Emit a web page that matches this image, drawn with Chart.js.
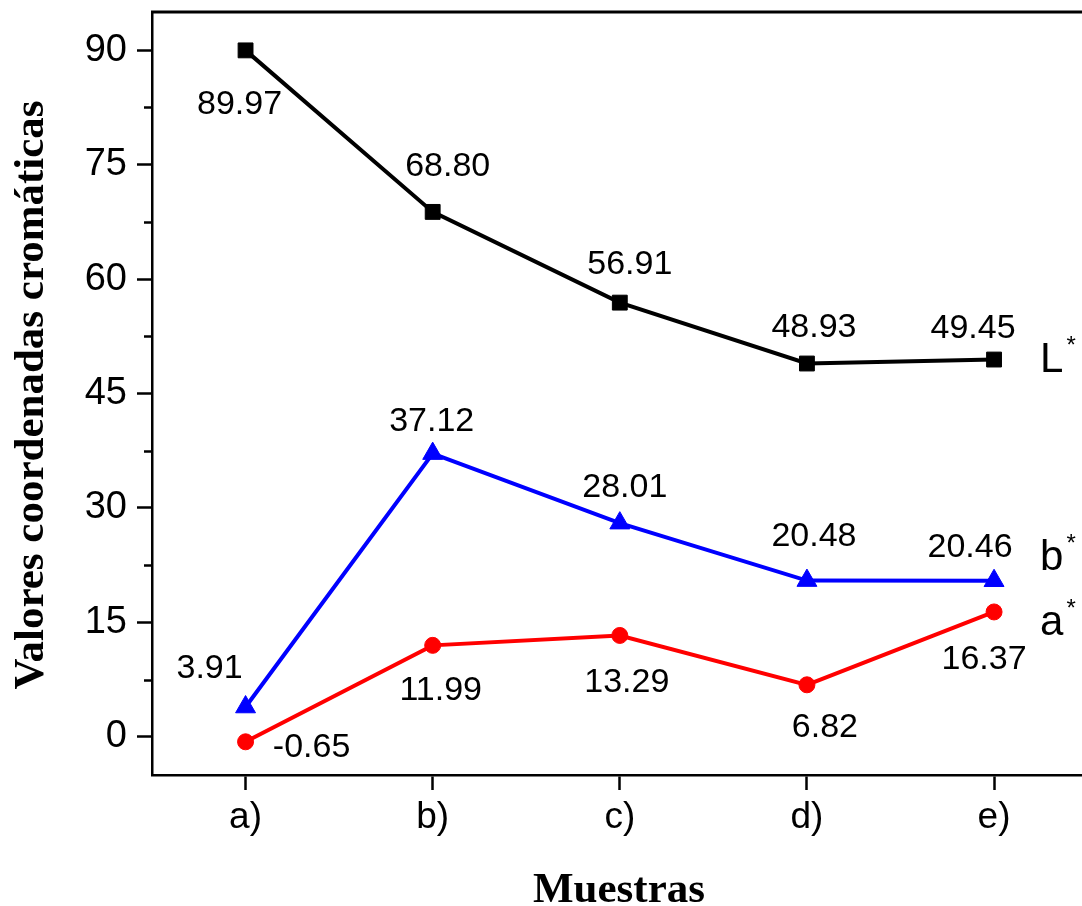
<!DOCTYPE html>
<html>
<head>
<meta charset="utf-8">
<title>Valores coordenadas cromáticas</title>
<script src="https://cdn.jsdelivr.net/npm/chart.js@4.4.0/dist/chart.umd.min.js"></script>
<style>
  html, body { margin: 0; padding: 0; background: #fff; }
</style>
</head>
<body>
<canvas id="myChart" width="1082" height="906"></canvas>
<script>
// samples and CIELab coordinates
const muestras = ['a)', 'b)', 'c)', 'd)', 'e)'];
const valoresL = [89.97, 68.80, 56.91, 48.93, 49.45];
const valoresB = [3.91, 37.12, 28.01, 20.48, 20.46];
const valoresA = [-0.65, 11.99, 13.29, 6.82, 16.37];
const yTicks = [0, 15, 30, 45, 60, 75, 90];
const yMinorTicks = [7.5, 22.5, 37.5, 52.5, 67.5, 82.5];

// where each value label sits relative to its point (dx, dy in px)
const offsetsL = [[-6, 54], [15, -45], [10, -38], [7, -36], [-21, -31]];
const offsetsB = [[-36, -38], [-1, -32], [5, -36], [7, -44], [-24, -33]];
const offsetsA = [[66, 6], [8, 45], [7, 47], [18, 43], [-10, 48]];

const sansFont = "'Liberation Sans', Arial, sans-serif";
const serifFont = "'Liberation Serif', 'Times New Roman', serif";

function toPoints(values) {
  return values.map((v, i) => ({ x: i, y: v }));
}

// value labels next to every point + series name at the end of each line
const labelsPlugin = {
  id: 'labelsPlugin',
  afterDatasetsDraw(chart) {
    const ctx = chart.ctx;
    ctx.save();
    chart.data.datasets.forEach((ds, di) => {
      const meta = chart.getDatasetMeta(di);
      ctx.fillStyle = '#000';
      ctx.font = '34px ' + sansFont;
      ctx.textAlign = 'center';
      ctx.textBaseline = 'middle';
      meta.data.forEach((pt, i) => {
        const off = ds.labelOffsets[i];
        ctx.fillText(ds.data[i].y.toFixed(2), pt.x + off[0], pt.y + off[1]);
      });
      // series name, e.g. L*
      const last = meta.data[meta.data.length - 1];
      const nx = last.x + 46;
      const ny = last.y + ds.nameShift;
      ctx.textAlign = 'left';
      ctx.textBaseline = 'alphabetic';
      ctx.font = '42px ' + sansFont;
      ctx.fillText(ds.label, nx, ny);
      const w = ctx.measureText(ds.label).width;
      ctx.font = '24px ' + sansFont;
      ctx.fillText('*', nx + w + 3, ny - 19);
    });
    ctx.restore();
  }
};

// top frame line, minor y ticks and the axis titles
const framePlugin = {
  id: 'framePlugin',
  afterDraw(chart) {
    const ctx = chart.ctx;
    const area = chart.chartArea;
    const yScale = chart.scales.y;
    ctx.save();
    ctx.strokeStyle = '#000';
    ctx.lineWidth = 3;
    ctx.beginPath();
    ctx.moveTo(area.left - 1, area.top);
    ctx.lineTo(area.right, area.top);
    ctx.stroke();

    ctx.lineWidth = 2.5;
    yMinorTicks.forEach(v => {
      const py = Math.round(yScale.getPixelForValue(v)) + 0.5;
      ctx.beginPath();
      ctx.moveTo(area.left - 8, py);
      ctx.lineTo(area.left, py);
      ctx.stroke();
    });

    ctx.fillStyle = '#000';
    ctx.font = 'bold 43px ' + serifFont;
    ctx.textAlign = 'center';
    ctx.textBaseline = 'alphabetic';
    ctx.fillText('Muestras', 619, 902);

    ctx.translate(43, 395);
    ctx.rotate(-Math.PI / 2);
    ctx.fillText('Valores coordenadas cromáticas', 0, 0);
    ctx.restore();
  }
};

const ctx = document.getElementById('myChart').getContext('2d');
const myChart = new Chart(ctx, {
  type: 'line',
  data: {
    datasets: [
      {
        label: 'L',
        data: toPoints(valoresL),
        labelOffsets: offsetsL,
        nameShift: 12,
        borderColor: '#000',
        backgroundColor: '#000',
        borderWidth: 4,
        pointStyle: 'rect',
        pointRadius: 10.5,
        pointBorderWidth: 1
      },
      {
        label: 'b',
        data: toPoints(valoresB),
        labelOffsets: offsetsB,
        nameShift: -11,
        borderColor: '#0000ff',
        backgroundColor: '#0000ff',
        borderWidth: 4,
        pointStyle: 'triangle',
        pointRadius: 11.5,
        pointBorderWidth: 1
      },
      {
        label: 'a',
        data: toPoints(valoresA),
        labelOffsets: offsetsA,
        nameShift: 23,
        borderColor: '#ff0000',
        backgroundColor: '#ff0000',
        borderWidth: 4,
        pointStyle: 'circle',
        pointRadius: 8,
        pointBorderWidth: 1
      }
    ]
  },
  options: {
    responsive: false,
    animation: false,
    layout: { autoPadding: false, padding: { top: 12, right: 0, bottom: 0, left: 0 } },
    plugins: {
      legend: { display: false },
      tooltip: { enabled: false }
    },
    scales: {
      x: {
        type: 'linear',
        min: -0.5,
        max: 4.47,
        afterBuildTicks: scale => { scale.ticks = muestras.map((m, i) => ({ value: i })); },
        afterFit: scale => {
          scale.height = 131;
          scale.paddingLeft = 0;
          scale.paddingRight = 0;
        },
        ticks: {
          color: '#000',
          padding: 6,
          maxRotation: 0,
          font: { family: sansFont, size: 37 },
          callback: v => muestras[v]
        },
        grid: {
          display: true,
          drawOnChartArea: false,
          drawTicks: true,
          tickLength: 15,
          tickWidth: 2.5,
          tickColor: '#000'
        },
        border: { display: true, color: '#000', width: 2.5 }
      },
      y: {
        min: -5,
        max: 95,
        afterBuildTicks: scale => { scale.ticks = yTicks.map(v => ({ value: v })); },
        afterFit: scale => {
          scale.width = 152;
          scale.paddingTop = 0;
          scale.paddingBottom = 0;
        },
        ticks: {
          color: '#000',
          padding: 10,
          font: { family: sansFont, size: 38 }
        },
        grid: {
          display: true,
          drawOnChartArea: false,
          drawTicks: true,
          tickLength: 15,
          tickWidth: 2.5,
          tickColor: '#000'
        },
        border: { display: true, color: '#000', width: 2.5 }
      }
    }
  },
  plugins: [labelsPlugin, framePlugin]
});
</script>
</body>
</html>
